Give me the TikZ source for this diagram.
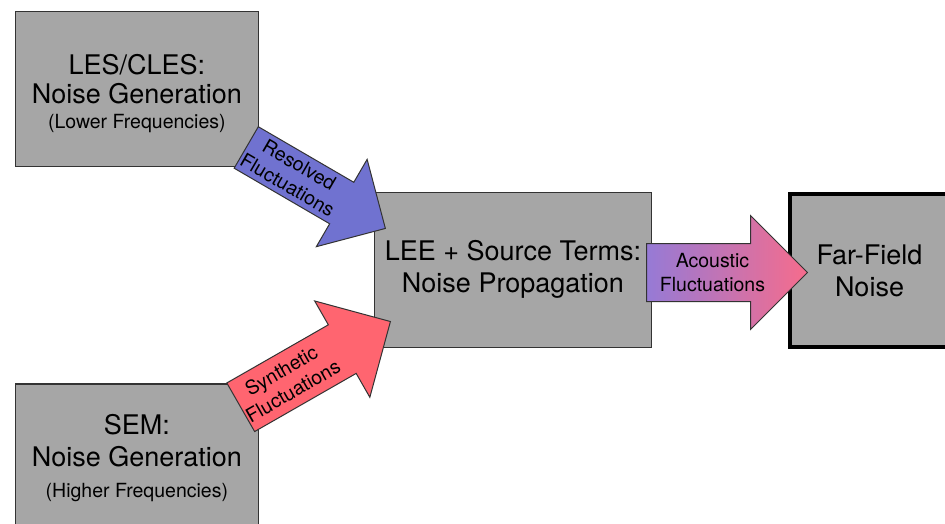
\documentclass[tikz,border=0pt]{standalone}
\usepackage{fontspec}
\setmainfont{TeX Gyre Heros}
\usetikzlibrary{shapes.arrows,calc}

\definecolor{boxgray}{RGB}{166,166,166}
\definecolor{boxline}{RGB}{51,51,51}
\definecolor{resolvedblue}{RGB}{112,114,208}
\definecolor{syntheticred}{RGB}{255,101,112}
\definecolor{acousticleft}{RGB}{150,122,214}
\definecolor{acousticright}{RGB}{246,108,140}

\newcommand{\boxfont}{\fontsize{27}{32}\selectfont}
\newcommand{\notefont}{\fontsize{19.5}{23}\selectfont}
\newcommand{\arrowfont}{\fontsize{19.5}{23.3}\selectfont}

\tikzset{
  stagebox/.style={draw=boxline, line width=1.3pt, fill=boxgray, anchor=north west,
                   inner sep=0pt, align=center, font=\boxfont},
  flowarrow/.style={single arrow, draw=boxline, line width=1pt, anchor=tail,
                    inner xsep=0pt, single arrow head indent=0pt},
  arrowlabel/.style={align=center, font=\arrowfont, inner sep=0pt}
}

\begin{document}
\begin{tikzpicture}[x=1pt, y=-1pt]
  \clip (0,0) rectangle (945,523);
  \fill[white] (0,0) rectangle (945,523);

  % noise generation
  \node[stagebox, minimum width=243pt, minimum height=155pt] (les) at (14.7,11)
       {\rule{0pt}{29.4pt}LES/CLES:\\[-2.7pt] Noise Generation\\[-7pt] {\notefont (Lower Frequencies)}};
  \node[stagebox, minimum width=243pt, minimum height=148pt] (sem) at (14.7,383.3)
       {SEM:\\ Noise Generation\\[-1pt] {\notefont (Higher Frequencies)}};

  % propagation and far field
  \node[stagebox, minimum width=277.5pt, minimum height=155.2pt] (lee) at (373.5,191.5)
       {LEE + Source Terms:\\ Noise Propagation};
  \node[stagebox, draw=black, line width=4pt, minimum width=159pt, minimum height=153pt] (far) at (788,192)
       {Far-Field\\ Noise};

  % fluctuation arrows
  \node[flowarrow, fill=resolvedblue, rotate=-30.2, inner ysep=23.5pt,
        single arrow head extend=26.5pt, minimum height=161pt] (resarrow) at (245.8,147.2) {};
  \node[arrowlabel, rotate=-30.2] (reslabel) at ($(resarrow.tail)!0.34!(resarrow.tip)$)
       {Resolved\\Fluctuations};

  \node[flowarrow, fill=syntheticred, rotate=29.8, inner ysep=27.5pt,
        single arrow head extend=27.5pt, minimum height=172.5pt] (synarrow) at (240.3,407.5) {};
  \node[arrowlabel, rotate=29.8] (synlabel) at ($(synarrow.tail)!0.31!(synarrow.tip)$)
       {Synthetic\\Fluctuations};

  \node[flowarrow, left color=acousticleft, right color=acousticright, inner ysep=28.5pt,
        single arrow head extend=28pt, minimum height=161pt] (acarrow) at (646,272.5) {};
  \node[arrowlabel] (aclabel) at ($(acarrow.tail)!0.41!(acarrow.tip)$)
       {Acoustic\\Fluctuations};
\end{tikzpicture}
\end{document}
